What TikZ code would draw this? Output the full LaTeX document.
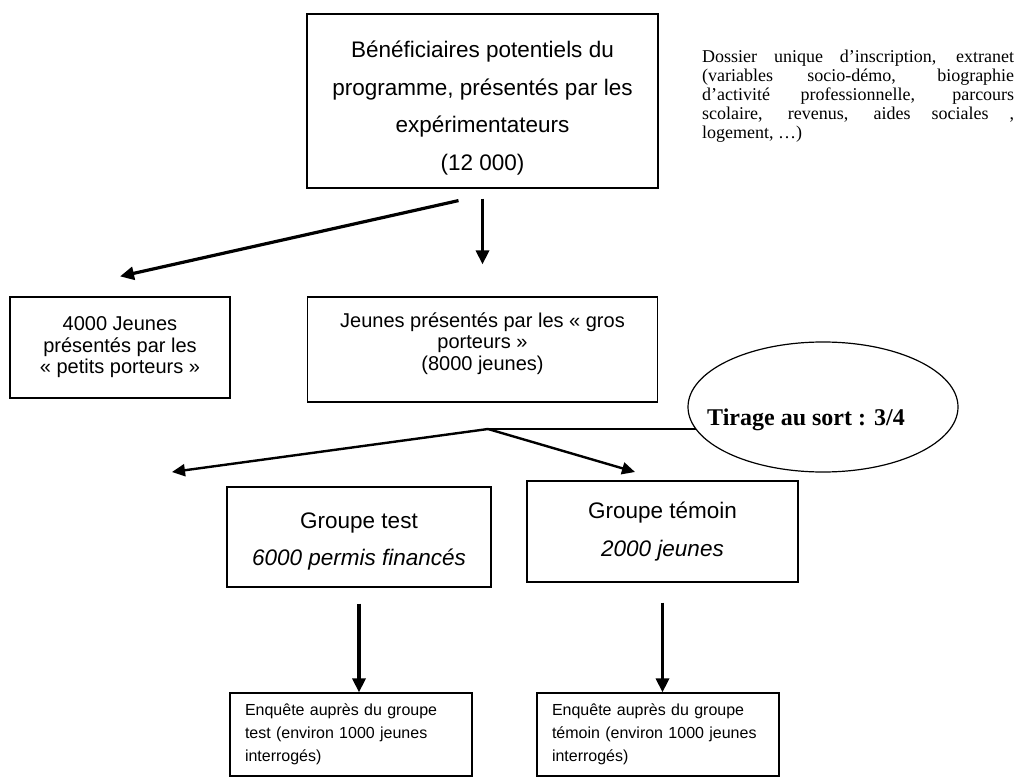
\documentclass[tikz,border=0pt]{standalone}
\usepackage{fontspec}
\setmainfont{Liberation Sans}
\newfontfamily\timesfont{Liberation Serif}
\usetikzlibrary{arrows.meta,shapes.geometric}

\begin{document}
\begin{tikzpicture}[x=1pt,y=-1pt,
    box/.style={draw,line width=1.2pt,inner sep=0pt,align=center},
    big/.style={font=\fontsize{22.5}{37.5}\selectfont},
    mid/.style={font=\fontsize{20}{21.5}\selectfont},
    small/.style={font=\fontsize{16}{23}\selectfont},
    arr/.style={-{Triangle[length=14pt,width=13pt]},line width=3.2pt},
    arrthin/.style={-{Triangle[length=13pt,width=12pt]},line width=2.4pt}]
    \useasboundingbox (0,0) rectangle (1025,778);

    \node at (482.5,101) [box,big,minimum width=351,minimum height=174] (a) {\rule{0pt}{31pt}Bénéficiaires potentiels du\\programme, présentés par les\\expérimentateurs\\(12 000)};
    \node at (702,50) [anchor=north west,inner sep=0pt,text width=312,align=justify,font=\timesfont\fontsize{18}{19}\selectfont] (i) {Dossier unique d’inscription, extranet\linebreak (variables socio-démo, biographie\linebreak d’activité professionnelle, parcours\linebreak scolaire, revenus, aides sociales ,\linebreak logement, …)};

    \node at (120,347.5) [box,mid,minimum width=220,minimum height=101] (b) {4000 Jeunes\\présentés par les\\« petits porteurs »};
    \node at (482.5,349.5) [box,mid,minimum width=350,minimum height=105] (c) {Jeunes présentés par les « gros\\porteurs »\\(8000 jeunes)\rule[-16pt]{0pt}{16pt}};

    \node at (823,407) [ellipse,draw,line width=1.2pt,minimum width=270,minimum height=130,inner sep=0pt] (e) {};
    \node at (806,420) [font=\timesfont\bfseries\fontsize{24}{28}\selectfont] (et) {Tirage au sort : 3/4};

    \node at (359,537) [box,big,minimum width=264,minimum height=100] (d) {\rule{0pt}{25pt}Groupe test\\\textit{6000 permis financés}};
    \node at (662.5,531.5) [box,big,minimum width=271,minimum height=101] (f) {Groupe témoin\\\textit{2000 jeunes}};

    \node at (351,734.5) [box,small,minimum width=242,minimum height=83,text width=212,align=left] (g) {Enquête auprès du groupe\\test (environ 1000 jeunes\\interrogés)};
    \node at (658,734.5) [box,small,minimum width=242,minimum height=83,text width=212,align=left] (h) {Enquête auprès du groupe\\témoin (environ 1000 jeunes\\interrogés)};

    \coordinate (t) at (488,429);
    \coordinate (tl) at (172,472);
    \coordinate (tr) at (635,472);

    \draw[arr] ([xshift=-24pt,yshift=-12pt]a.south) -- ([yshift=20pt]b.north);
    \draw[arr] ([yshift=-10pt]a.south) -- ([yshift=32pt]c.north);
    \draw[line width=1.2pt] (t) -- (t -| e.190);
    \draw[arrthin] (t) -- (tl);
    \draw[arrthin] (t) -- (tr);
    \draw[arr] ([yshift=-16pt]d.south) -- (d.south |- g.north);
    \draw[arr] ([yshift=-20pt]f.south) -- (f.south |- h.north);
\end{tikzpicture}
\end{document}
